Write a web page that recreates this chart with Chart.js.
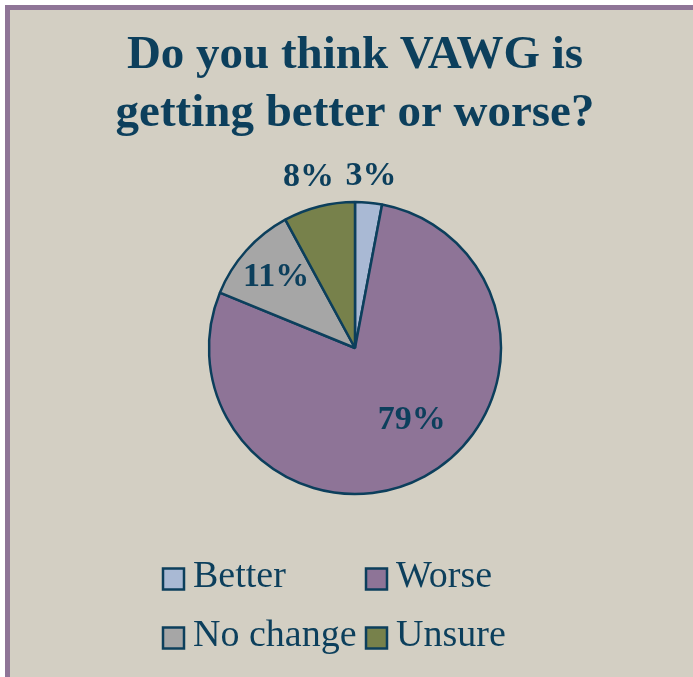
<!DOCTYPE html>
<html>
<head>
<meta charset="utf-8">
<script src="https://cdn.jsdelivr.net/npm/chart.js@4/dist/chart.umd.min.js"></script>
<style>
  html, body { margin: 0; padding: 0; background: #ffffff; overflow: hidden; width: 693px; height: 677px; }
  #frame { position: absolute; left: 5px; top: 5px; width: 700px; height: 680px;
           border-left: 5px solid #8f7597; border-top: 5px solid #8f7597; background: #d3cfc3; }
  #c { position: absolute; left: 0; top: 0; }
</style>
</head>
<body>
<div id="frame"><canvas id="c" width="690" height="667"></canvas></div>
<script>
// ---- data ----
const titleLines = ["Do you think VAWG is", "getting better or worse?"];
const categories = ["Better", "Worse", "No change", "Unsure"];
const percentValues = [3, 79, 11, 8];
const sliceColors = ["#a9b9d4", "#8e7497", "#a6a6a6", "#77814b"];

const INK = "#0c3f5c";

// label placement per slice: radius (px from centre) and angular shift (deg)
const labelPlacement = [
  { r: 173, shift: 0 },
  { r: 92, shift: -9.5 },
  { r: 106, shift: 0 },
  { r: 177, shift: -1 }
];

const pctLabels = {
  id: 'pctLabels',
  afterDatasetsDraw(chart) {
    const ctx = chart.ctx;
    const meta = chart.getDatasetMeta(0);
    ctx.save();
    ctx.fillStyle = INK;
    ctx.font = "bold 34px 'Liberation Serif'";
    ctx.textAlign = "center";
    ctx.textBaseline = "middle";
    meta.data.forEach((arc, i) => {
      const p = labelPlacement[i];
      const mid = (arc.startAngle + arc.endAngle) / 2 + p.shift * Math.PI / 180;
      const x = arc.x + Math.cos(mid) * p.r;
      const y = arc.y + Math.sin(mid) * p.r;
      ctx.fillText(percentValues[i] + "%", x, y);
    });
    ctx.restore();
  }
};

const gridLegend = {
  id: 'gridLegend',
  afterDraw(chart) {
    const ctx = chart.ctx;
    const ca = chart.chartArea;
    const cx = (ca.left + ca.right) / 2;
    const colBox = [cx - 192, cx + 11];
    const rowTop = [ca.bottom + 28.5, ca.bottom + 87.5];
    const box = 21;
    ctx.save();
    ctx.font = "38px 'Liberation Serif'";
    ctx.textAlign = "left";
    ctx.textBaseline = "alphabetic";
    categories.forEach((name, i) => {
      const col = i % 2, row = Math.floor(i / 2);
      const bx = colBox[col], by = rowTop[row];
      ctx.fillStyle = sliceColors[i];
      ctx.fillRect(bx, by, box, box);
      ctx.lineWidth = 2.5;
      ctx.strokeStyle = INK;
      ctx.strokeRect(bx, by, box, box);
      ctx.fillStyle = INK;
      ctx.fillText(name, bx + 30, by + 18);
    });
    ctx.restore();
  }
};

new Chart(document.getElementById('c'), {
  type: 'pie',
  data: {
    labels: categories,
    datasets: [{
      data: percentValues,
      backgroundColor: sliceColors,
      borderColor: INK,
      borderWidth: 2.5,
      borderAlign: 'center'
    }]
  },
  options: {
    responsive: false,
    animation: false,
    radius: 146,
    layout: { padding: { top: 0, bottom: 137, left: 0, right: 0 } },
    plugins: {
      legend: { display: false },
      tooltip: { enabled: false },
      title: {
        display: true,
        text: titleLines,
        color: INK,
        font: { family: "'Liberation Serif'", size: 47, weight: 'bold', lineHeight: '58px' },
        padding: { top: 17, bottom: 13 }
      }
    }
  },
  plugins: [pctLabels, gridLegend]
});
</script>
</body>
</html>
